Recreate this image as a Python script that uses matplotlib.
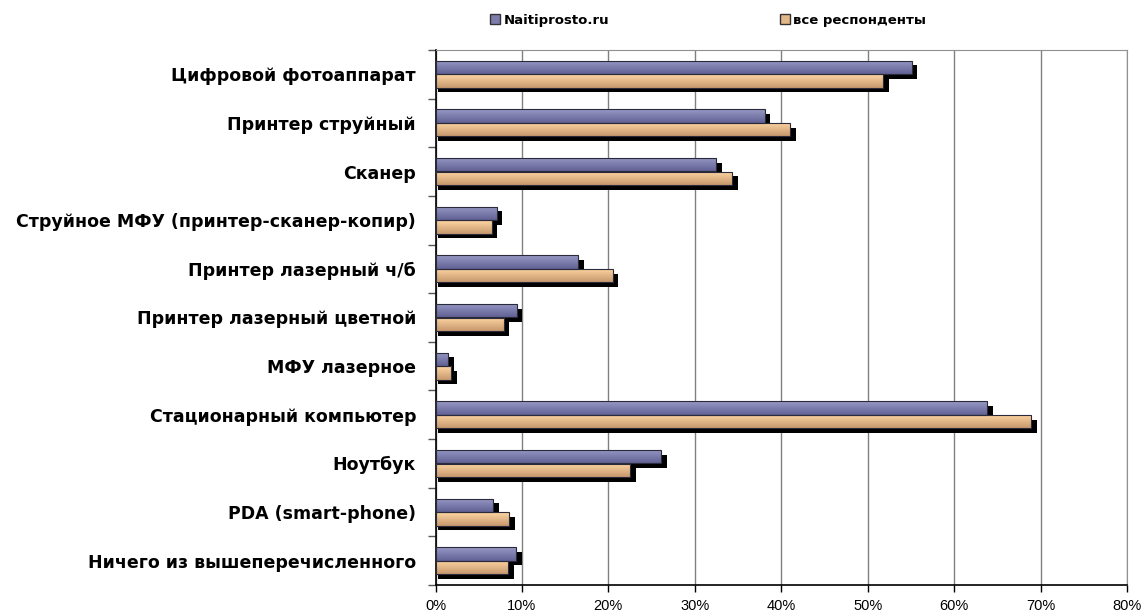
import numpy as np
import matplotlib
matplotlib.use("Agg")
import matplotlib.pyplot as plt
from matplotlib.patches import Patch, Rectangle
from matplotlib.ticker import FixedLocator, PercentFormatter

plt.rcParams["font.family"] = ["Liberation Sans", "DejaVu Sans"]

# survey data, percent
categories = [
    "Цифровой фотоаппарат",
    "Принтер струйный",
    "Сканер",
    "Струйное МФУ (принтер-сканер-копир)",
    "Принтер лазерный ч/б",
    "Принтер лазерный цветной",
    "МФУ лазерное",
    "Стационарный компьютер",
    "Ноутбук",
    "PDA (smart-phone)",
    "Ничего из вышеперечисленного",
]
naitiprosto = [55.1, 38.1, 32.5, 7.1, 16.5, 9.4, 1.5, 63.8, 26.1, 6.7, 9.3]
all_resp = [51.8, 41.0, 34.3, 6.5, 20.5, 7.9, 1.8, 68.9, 22.5, 8.5, 8.4]
series_names = ["Naitiprosto.ru", "все респонденты"]

blue_top, blue_bot = np.array([0.60, 0.60, 0.78]), np.array([0.38, 0.38, 0.58])
orng_top, orng_bot = np.array([1.00, 0.84, 0.64]), np.array([0.78, 0.60, 0.43])

fig = plt.figure(figsize=(11.44, 6.16), dpi=100)
ax = fig.add_axes([435.5 / 1144, 1 - 585 / 616, (1127 - 435.5) / 1144, (585 - 50) / 616])

h = 0.275
y = np.arange(len(categories))


def grad_bar(yc, val, ctop, cbot):
    # black drop shadow
    ax.add_patch(Rectangle((0.3, yc - h / 2 + 0.095), val + 0.35, h,
                           facecolor="black", edgecolor="none", zorder=2))
    t = np.linspace(0, 1, 32)[:, None, None]
    img = ctop * (1 - t) + cbot * t
    im = ax.imshow(img, extent=(0, val, yc + h / 2, yc - h / 2), aspect="auto",
                   interpolation="bicubic", zorder=3)
    r = Rectangle((0, yc - h / 2), val, h, facecolor="none",
                  edgecolor="#2a2a3a", linewidth=0.8, zorder=4)
    ax.add_patch(r)
    im.set_clip_path(r)


for i in range(len(categories)):
    grad_bar(y[i] - 0.14, naitiprosto[i], blue_top, blue_bot)
    grad_bar(y[i] + 0.14, all_resp[i], orng_top, orng_bot)

ax.set_xlim(0, 80)
ax.set_ylim(len(categories) - 0.5, -0.5)

ax.xaxis.set_major_locator(FixedLocator(np.arange(0, 81, 10)))
ax.xaxis.set_major_formatter(PercentFormatter(decimals=0))
ax.grid(axis="x", color="#808080", linewidth=1.0, zorder=1)
ax.set_axisbelow(True)

ax.set_yticks(y)
ax.set_yticklabels(categories, fontsize=12.5, fontweight="bold",
                   family=["DejaVu Sans"])
ax.yaxis.set_minor_locator(FixedLocator(np.arange(-0.5, len(categories), 1)))
ax.tick_params(axis="y", which="major", length=0, pad=14)
ax.tick_params(axis="y", which="minor", length=6, width=1, color="#555555")
ax.tick_params(axis="x", length=5, width=1, labelsize=10.5, pad=5)

for s in ["top", "right"]:
    ax.spines[s].set_color("#909090")
for s in ["left", "bottom"]:
    ax.spines[s].set_color("black")
    ax.spines[s].set_linewidth(1.2)

handles = [Patch(facecolor=(blue_top + blue_bot) / 2, edgecolor="#333333"),
           Patch(facecolor=(orng_top + orng_bot) / 2, edgecolor="#333333")]
fig.legend(handles, series_names, loc="center", bbox_to_anchor=(0.619, 0.967),
           ncol=2, frameon=False, handlelength=0.8, handleheight=0.8,
           handletextpad=0.25, columnspacing=12.9,
           prop={"weight": "bold", "size": 9.5, "family": "DejaVu Sans"})

fig.savefig("out.png", dpi=100)
